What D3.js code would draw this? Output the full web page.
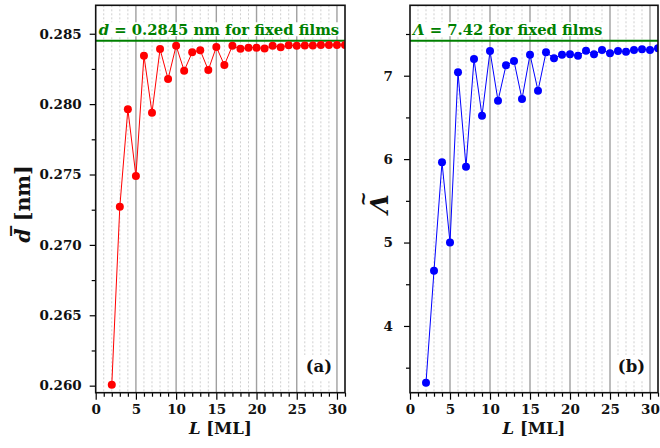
<!DOCTYPE html>
<html><head><meta charset="utf-8">
<script src="https://cdn.jsdelivr.net/npm/d3@7"></script>
<style>
body{margin:0;background:#fff;}
text{font-family:"DejaVu Serif",serif;font-weight:bold;}
</style></head>
<body><svg id="c" width="660" height="448"></svg>
<script>
const L = [2,3,4,5,6,7,8,9,10,11,12,13,14,15,16,17,18,19,20,21,22,23,24,25,26,27,28,29,30,31];
const dbar = [0.26007,0.27271,0.27963,0.27489,0.28344,0.27939,0.28391,0.28178,0.28415,0.28237,
              0.28368,0.28382,0.28242,0.28406,0.28278,0.28415,0.28393,0.28401,0.28401,0.28396,
              0.28415,0.28404,0.28419,0.28414,0.28416,0.28416,0.2842,0.2842,0.2842,0.2842];
const lambda = [3.319,4.662,5.962,5.0,7.04,5.909,7.20,6.52,7.296,6.70,
                7.125,7.176,6.72,7.252,6.82,7.28,7.21,7.25,7.256,7.24,
                7.30,7.256,7.308,7.27,7.296,7.288,7.308,7.317,7.308,7.33];
const xTicks = [0,5,10,15,20,25,30];
const dTicks = [0.260,0.265,0.270,0.275,0.280,0.285];
const lTicks = [4,5,6,7];
const dFixed = 0.2845, lFixed = 7.42;

const svg = d3.select("#c");
const pTop = 5.3, pBot = 392.7;

function panel(opt){
  const g = svg.append("g");
  const x = d3.scaleLinear().domain([0,31]).range([opt.x0,opt.x1]);
  const y = d3.scaleLinear().domain(opt.ydom).range([pBot,pTop]);
  const cid = "clip"+opt.id;
  svg.append("clipPath").attr("id",cid).append("rect")
    .attr("x",opt.x0).attr("y",pTop).attr("width",opt.x1-opt.x0).attr("height",pBot-pTop);
  // grid
  const grid = g.append("g");
  d3.range(1,31).forEach(v=>{
    const major = v%5===0;
    grid.append("line").attr("x1",x(v)).attr("x2",x(v)).attr("y1",pTop).attr("y2",pBot)
      .attr("stroke",major?"#a0a0a0":"#cfcfcf")
      .attr("stroke-width",major?1.4:1)
      .attr("stroke-dasharray",major?null:"2,2");
  });
  // fixed line
  const yf = y(opt.fixed);
  g.append("line").attr("x1",opt.x0).attr("x2",opt.x1).attr("y1",yf).attr("y2",yf)
    .attr("stroke","#008000").attr("stroke-width",2);
  // annotation
  const ann = g.append("text").attr("x",opt.x0+3).attr("y",yf-5.5)
    .attr("fill","#008000").style("font-size","14.8px");
  ann.append("tspan").style("font-style","italic").text(opt.sym);
  ann.append("tspan").text(opt.ann);
  const bb = ann.node().getBBox();
  g.insert("rect",()=>ann.node()).attr("x",bb.x-1).attr("y",bb.y+1).attr("width",bb.width+2).attr("height",bb.height-3).attr("fill","#fff");
  // panel label box
  const lab = g.append("text").attr("x",opt.x1-13).attr("y",372).attr("text-anchor","end")
    .style("font-size","16.5px").attr("fill","#111").text(opt.lab);
  const lb = lab.node().getBBox();
  g.insert("rect",()=>lab.node()).attr("x",lb.x-3).attr("y",lb.y-2).attr("width",lb.width+6).attr("height",lb.height+6).attr("fill","#fff");
  // data
  const pts = L.map((l,i)=>[l,opt.vals[i]]);
  const dg = g.append("g").attr("clip-path",`url(#${cid})`);
  dg.append("path").datum(pts).attr("fill","none").attr("stroke",opt.color).attr("stroke-width",1)
    .attr("d",d3.line().x(d=>x(d[0])).y(d=>y(d[1])));
  dg.selectAll("circle").data(pts).join("circle").attr("cx",d=>x(d[0])).attr("cy",d=>y(d[1]))
    .attr("r",4).attr("fill",opt.color);
  // axes
  g.append("g").attr("transform",`translate(0,${pBot})`)
    .call(d3.axisBottom(x).tickValues(xTicks).tickSize(7).tickPadding(5).tickFormat(d3.format("d")));
  g.append("g").attr("transform",`translate(0,${pBot})`)
    .call(d3.axisBottom(x).tickValues(d3.range(0,32).filter(v=>v%5)).tickSize(4).tickFormat(""));
  g.append("g").attr("transform",`translate(${opt.x0},0)`)
    .call(d3.axisLeft(y).tickValues(opt.ticks).tickSize(6).tickPadding(opt.pad).tickFormat(opt.fmt));
  g.append("g").attr("transform",`translate(${opt.x0},0)`)
    .call(d3.axisLeft(y).tickValues(opt.minor).tickSize(4).tickFormat(""));
  g.selectAll(".domain").remove();
  g.selectAll(".tick line").attr("stroke","#000").attr("stroke-width",1.2);
  g.selectAll(".tick text").attr("fill","#111").style("font-size","13.5px").style("font-family","'DejaVu Serif',serif").style("font-weight","bold");
  // frame
  g.append("rect").attr("x",opt.x0).attr("y",pTop).attr("width",opt.x1-opt.x0).attr("height",pBot-pTop)
    .attr("fill","none").attr("stroke","#111").attr("stroke-width",1.6);
  // x label
  const xl = g.append("text").attr("x",(opt.x0+opt.x1)/2).attr("y",434).attr("text-anchor","middle")
    .style("font-size","16.5px").attr("fill","#111");
  xl.append("tspan").style("font-style","italic").text("L");
  xl.append("tspan").text(" [ML]");
  // y label
  const yg = g.append("g").attr("transform",`translate(${opt.ylx},${opt.yly}) rotate(-90)`);
  const yl = yg.append("text").attr("text-anchor","middle").style("font-size",opt.ylsize).attr("fill","#111");
  yl.append("tspan").style("font-style","italic").text(opt.ylab);
  if(opt.ylab2) yl.append("tspan").text(opt.ylab2);
  if(opt.accent) yg.append("text").attr("x",5).attr("y",-19).attr("text-anchor","middle")
    .style("font-size","18px").attr("fill","#111").text(opt.accent);
}

panel({id:"a",x0:95.7,x1:345,ydom:[0.2595,0.28702],vals:dbar,color:"#ff0000",fixed:dFixed,
  sym:"d",ann:" = 0.2845 nm for fixed films",lab:"(a)",ticks:dTicks,
  minor:[0.2625,0.2675,0.2725,0.2775,0.2825],fmt:d3.format(".3f"),pad:8,
  ylab:"d\u0305",ylab2:" [nm]",ylx:30,yly:204,ylsize:"20.5px"});
panel({id:"b",x0:410,x1:658,ydom:[3.2,7.844],vals:lambda,color:"#0000ff",fixed:lFixed,
  sym:"\u039B",ann:" = 7.42 for fixed films",lab:"(b)",ticks:lTicks,
  minor:[3.5,4.5,5.5,6.5,7.5],fmt:d3.format("d"),pad:11,
  ylab:"\u039B",ylab2:"",accent:"~",ylx:388,yly:204,ylsize:"25px"});
</script></body></html>
